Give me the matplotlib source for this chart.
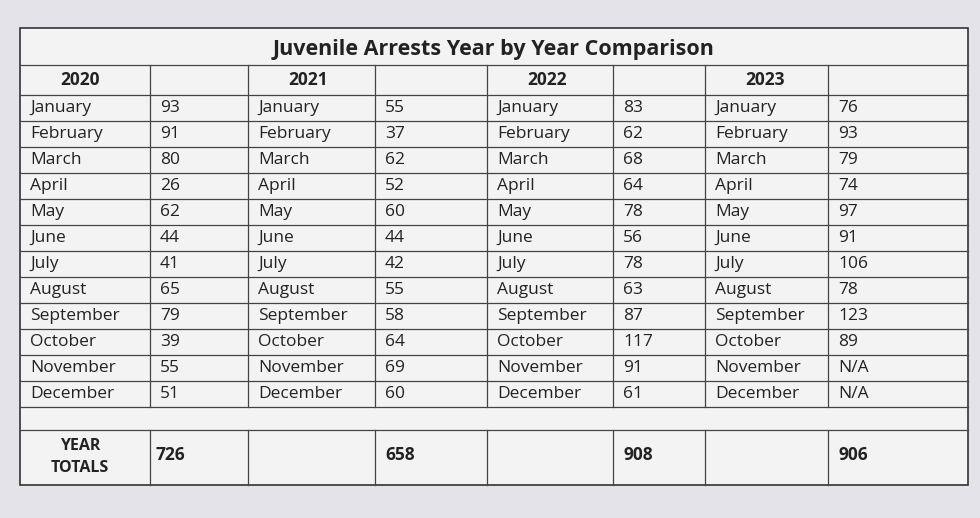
import matplotlib
matplotlib.use("Agg")
import matplotlib.pyplot as plt

title = "Juvenile Arrests Year by Year Comparison"
years = ["2020", "2021", "2022", "2023"]
months = ["January", "February", "March", "April", "May", "June", "July",
          "August", "September", "October", "November", "December"]
v2020 = ["93", "91", "80", "26", "62", "44", "41", "65", "79", "39", "55", "51"]
v2021 = ["55", "37", "62", "52", "60", "44", "42", "55", "58", "64", "69", "60"]
v2022 = ["83", "62", "68", "64", "78", "56", "78", "63", "87", "117", "91", "61"]
v2023 = ["76", "93", "79", "74", "97", "91", "106", "78", "123", "89", "N/A", "N/A"]
totals = ["726", "658", "908", "906"]
series = [v2020, v2021, v2022, v2023]

fig = plt.figure(figsize=(9.8, 5.18), dpi=100)
fig.patch.set_facecolor("#e4e4e8")
ax = fig.add_axes([0, 0, 1, 1])
ax.set_xlim(0, 980); ax.set_ylim(518, 0); ax.axis("off")

L, R = 20, 968
ax.add_patch(plt.Rectangle((L, 28), R - L, 457, facecolor="#f3f3f4", edgecolor="#333", lw=1.2))
font = "Open Sans"
ax.text((L + R) / 2, 50, title, ha="center", va="center", fontsize=15.5, fontweight="bold", family=font, color="#222")

xs = [20, 150, 248, 375, 487, 613, 705, 828, 968]
top, hdr = 65, 95
rh = 26
rows_end = hdr + 12 * rh
tot_top, tot_bot = rows_end + 23, 485
ec = "#444"
for y in [top, hdr] + [hdr + rh * (i + 1) for i in range(12)] + [tot_top]:
    ax.plot([L, R], [y, y], color=ec, lw=0.9)
for x in xs[1:-1]:
    ax.plot([x, x], [top, rows_end], color=ec, lw=0.9)
    ax.plot([x, x], [tot_top, tot_bot], color=ec, lw=0.9)

fs = 12.5
for k, yr in enumerate(years):
    ax.text(xs[2 * k] + 60, (top + hdr) / 2, yr, ha="center", va="center", fontsize=12.5,
            fontweight="bold", family=font, color="#222")
    for i, m in enumerate(months):
        yc = hdr + rh * i + rh / 2
        ax.text(xs[2 * k] + 10, yc, m, ha="left", va="center", fontsize=fs, family=font, color="#222")
        ax.text(xs[2 * k + 1] + 10, yc, series[k][i], ha="left", va="center", fontsize=fs, family=font, color="#222")
    tx = xs[1] + 5 if k == 0 else xs[2 * k + 1] + 10
    ax.text(tx, (tot_top + tot_bot) / 2 - 3, totals[k], ha="left", va="center", fontsize=12.5,
            fontweight="bold", family=font, color="#222")
ax.text(80, (tot_top + tot_bot) / 2, "YEAR\nTOTALS", ha="center", va="center", fontsize=11.5,
        fontweight="bold", family=font, color="#222", linespacing=1.5)

fig.savefig("out.png", dpi=100, facecolor=fig.get_facecolor())
